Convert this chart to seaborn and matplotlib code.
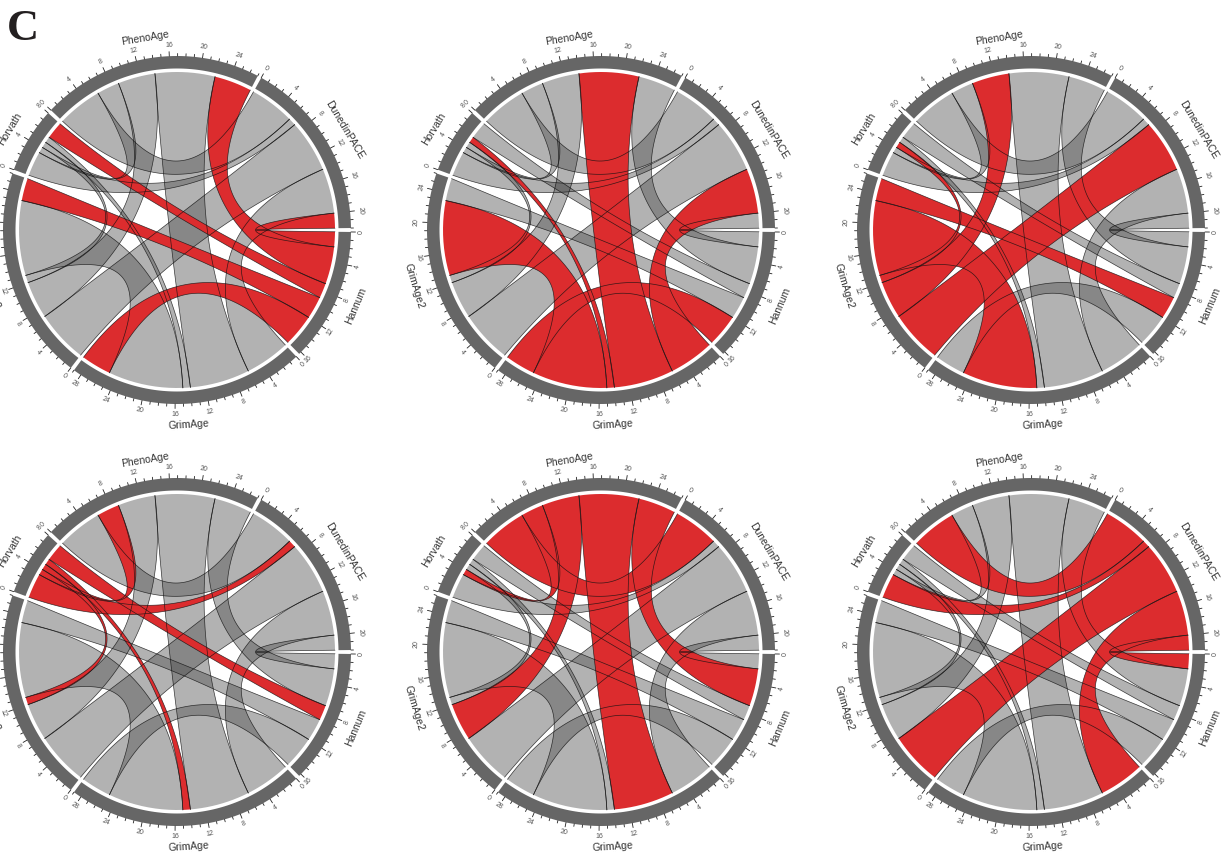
import numpy as np
import matplotlib
matplotlib.use('Agg')
import matplotlib.pyplot as plt
import seaborn as sns

sns.set_theme(style='white')
plt.rcParams['font.family'] = ['Liberation Sans', 'DejaVu Sans']

# sectors, clockwise starting at 3 o'clock
sectors = ['Hannum', 'GrimAge', 'GrimAge2', 'Horvath', 'PhenoAge', 'DunedinPACE']
# order the links are stacked in inside every sector
stack_order = ['DunedinPACE', 'PhenoAge', 'Horvath', 'GrimAge2', 'GrimAge', 'Hannum']

# width of each link at the sector end
hannum_links = {'DunedinPACE': 2, 'PhenoAge': 5, 'Horvath': 2, 'GrimAge2': 3, 'GrimAge': 4.3}
grimage_links = {'DunedinPACE': 6, 'PhenoAge': 8, 'Horvath': 1, 'GrimAge2': 10, 'Hannum': 4}
grimage2_links = {'DunedinPACE': 7, 'PhenoAge': 5, 'Horvath': 1, 'GrimAge': 10, 'Hannum': 3}
horvath_links = {'DunedinPACE': 3.3, 'PhenoAge': 0.8, 'GrimAge2': 0.8, 'GrimAge': 0.8, 'Hannum': 2.3}
phenoage_links = {'DunedinPACE': 6, 'Horvath': 3, 'GrimAge2': 5, 'GrimAge': 8, 'Hannum': 5}
dunedin_links = {'PhenoAge': 6, 'Horvath': 1, 'GrimAge2': 7, 'GrimAge': 6, 'Hannum': 2}

links = {'Hannum': hannum_links, 'GrimAge': grimage_links, 'GrimAge2': grimage2_links,
         'Horvath': horvath_links, 'PhenoAge': phenoage_links, 'DunedinPACE': dunedin_links}

# which sector is highlighted in each panel
highlighted = ['Hannum', 'GrimAge', 'GrimAge2', 'Horvath', 'PhenoAge', 'DunedinPACE']
centers_x = [177, 601, 1031, 177, 601, 1031]
centers_y = [230, 230, 230, 652, 652, 652]

W, H = 1228, 856
GAP = 1.3
R_RING_OUT, R_RING_IN, R_CHORD = 174, 161.5, 158
DARK = '#666666'
RED = '#DC2C2E'
GREY = '#505050'


def pt(theta, r):
    t = np.deg2rad(theta)
    return np.array([r * np.cos(t), r * np.sin(t)])


def arc(t1, t2, r, n=40):
    t = np.deg2rad(np.linspace(t1, t2, n))
    return np.column_stack([r * np.cos(t), r * np.sin(t)])


def bezier(t1, t2, n=80):
    # quadratic curve, control point close to the centre, pushed out a bit for long links
    p0, p2 = pt(t1, R_CHORD), pt(t2, R_CHORD)
    diff = (t2 - t1) % 360
    if diff > 180:
        span = 360 - diff
        mid = t2 + span / 2
    else:
        span = diff
        mid = t1 + span / 2
    ctrl = pt(mid, 0.07 * R_CHORD * (span / 180) ** 3)
    s = np.linspace(0, 1, n)[:, None]
    return (1 - s) ** 2 * p0 + 2 * s * (1 - s) * ctrl + s ** 2 * p2


def bending(theta):
    theta = theta % 360
    return 270 - theta if theta > 180 else 90 - theta


sector_size = {s: sum(links[s].values()) for s in sectors}
deg_per_unit = (360 - GAP * len(sectors)) / sum(sector_size.values())

start = {}
ends = {}
theta = GAP / 2
for s in sectors:
    start[s] = theta
    pos = theta
    for other in stack_order:
        if other in links[s]:
            w = links[s][other] * deg_per_unit
            ends[(s, other)] = (pos, pos + w)
            pos += w
    theta = pos + GAP

pairs = [(a, b) for i, a in enumerate(sectors) for b in sectors[i + 1:]]

fig = plt.figure(figsize=(W / 100, H / 100), dpi=100)
half = 215

for panel, focus in enumerate(highlighted):
    cx, cy = centers_x[panel], centers_y[panel]
    ax = fig.add_axes([(cx - half) / W, 1 - (cy + half) / H, 2 * half / W, 2 * half / H])
    ax.set_xlim(-half, half)
    ax.set_ylim(half, -half)
    ax.set_aspect('equal')
    ax.axis('off')
    sns.despine(ax=ax, left=True, bottom=True)
    ax.patch.set_alpha(0)

    # grey links first, the red ones go over them, outlines last
    ordered = sorted(pairs, key=lambda p: focus in p)
    edges = []
    for a, b in ordered:
        a1, a2 = ends[(a, b)]
        b1, b2 = ends[(b, a)]
        inner = bezier(a2, b1)
        outer = bezier(b2, a1)
        poly = np.vstack([arc(a1, a2, R_CHORD, 12), inner, arc(b1, b2, R_CHORD, 12), outer])
        if focus in (a, b):
            ax.fill(poly[:, 0], poly[:, 1], color=RED, lw=0, zorder=3)
        else:
            ax.fill(poly[:, 0], poly[:, 1], color=GREY, alpha=0.44, lw=0, zorder=2)
        edges += [inner, outer]
    for e in edges:
        ax.plot(e[:, 0], e[:, 1], color='#111111', lw=0.5, alpha=0.8, zorder=4, clip_on=False)

    # outer ring, ticks and names
    for s in sectors:
        t0 = start[s]
        t1 = t0 + sector_size[s] * deg_per_unit
        ring = np.vstack([arc(t0, t1, R_RING_OUT, 80), arc(t1, t0, R_RING_IN, 80)])
        ax.fill(ring[:, 0], ring[:, 1], color=DARK, lw=0, zorder=5, clip_on=False)
        for u in range(int(sector_size[s] + 0.01) + 1):
            th = t0 + u * deg_per_unit
            major = u % 4 == 0
            p0, p1 = pt(th, R_RING_OUT), pt(th, R_RING_OUT + (4.5 if major else 2.5))
            ax.plot([p0[0], p1[0]], [p0[1], p1[1]], color='#222222', lw=0.6, zorder=5, clip_on=False)
            if major:
                p = pt(th, R_RING_OUT + 10.5)
                ax.text(p[0], p[1], str(u), fontsize=5, color='#555555', rotation=bending(th),
                        ha='center', va='center', rotation_mode='anchor', clip_on=False)
        mid = (t0 + t1) / 2
        p = pt(mid, 195)
        ax.text(p[0], p[1], s, fontsize=7.5, color='#333333', rotation=bending(mid),
                ha='center', va='center', rotation_mode='anchor', clip_on=False)

fig.text(7 / W, 1 - 40 / H, 'C', fontsize=32, fontweight='bold', family='Liberation Serif',
         color='#231f20', ha='left', va='baseline')

fig.savefig('out.png', dpi=100)
